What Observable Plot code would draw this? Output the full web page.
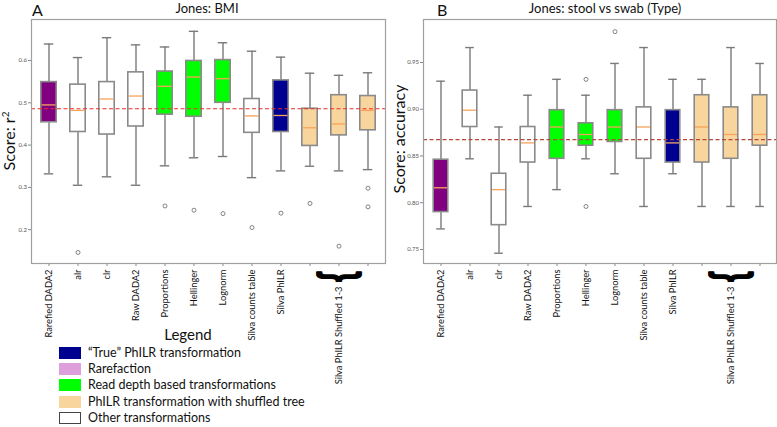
<!DOCTYPE html>
<html>
<head>
<meta charset="utf-8">
<script src="https://cdn.jsdelivr.net/npm/d3@7"></script>
<script src="https://cdn.jsdelivr.net/npm/@observablehq/plot@0.6"></script>
<style>
  html, body { margin: 0; padding: 0; background: #fff; }
  #wrap { position: relative; width: 777px; height: 427px; overflow: hidden; font-family: Lato, "Open Sans", sans-serif; color: #111; }
  .abs { position: absolute; white-space: nowrap; }
  .panel { position: absolute; top: 0; }
  .title { font-size: 13px; transform: translateX(-50%); line-height: 1.15; }
  .letter { font-size: 16px; line-height: 1.15; }
  .ylab { font-size: 16px; line-height: 1; transform: translate(-50%, -50%) rotate(-90deg); }
  .lg-row { position: absolute; left: 59px; height: 13px; font-size: 12.5px; line-height: 13px; }
  .sw { position: absolute; left: 0; top: 0; width: 22px; height: 12px; box-sizing: border-box; }
  .lg-row span.t { position: absolute; left: 29px; top: -1px; white-space: nowrap; }
</style>
</head>
<body>
<div id="wrap"></div>
<script>
// ---------- data ----------
const categories = ["Rarefied DADA2","alr","clr","Raw DADA2","Proportions","Hellinger","Lognorm","Silva counts table","Silva PhILR","Silva PhILR Shuffled 1","Silva PhILR Shuffled 2","Silva PhILR Shuffled 3"];
const tickLabels = ["Rarefied DADA2","alr","clr","Raw DADA2","Proportions","Hellinger","Lognorm","Silva counts table","Silva PhILR","","",""];
const groupLabel = "Silva PhILR Shuffled 1-3";
const groupCategory = "Silva PhILR Shuffled 2";
const boxFills = ["#800080","#ffffff","#ffffff","#ffffff","#00ff00","#00ff00","#00ff00","#ffffff","#000090","#f7d59c","#f7d59c","#f7d59c"];

// Panel A: Jones BMI (score r^2)
const bmiHigh = [0.639,0.607,0.654,0.637,0.632,0.669,0.642,0.622,0.608,0.570,0.565,0.571];
const bmiQ3   = [0.549,0.543,0.549,0.572,0.574,0.599,0.601,0.509,0.553,0.486,0.518,0.516];
const bmiMed  = [0.495,0.482,0.509,0.516,0.539,0.561,0.557,0.469,0.470,0.441,0.450,0.482];
const bmiQ1   = [0.454,0.431,0.425,0.444,0.472,0.467,0.500,0.429,0.431,0.398,0.423,0.435];
const bmiLow  = [0.332,0.305,0.325,0.305,0.351,0.370,0.373,0.323,0.339,0.350,0.339,0.342];
const bmiOutlierCat = ["alr","Proportions","Hellinger","Lognorm","Silva counts table","Silva PhILR","Silva PhILR Shuffled 1","Silva PhILR Shuffled 2","Silva PhILR Shuffled 3","Silva PhILR Shuffled 3"];
const bmiOutlierVal = [0.146,0.256,0.246,0.238,0.205,0.239,0.262,0.161,0.298,0.254];
const bmiBaseline = 0.486;
const bmiTicks = [0.2,0.3,0.4,0.5,0.6];

// Panel B: Jones stool vs swab (accuracy)
const typeHigh = [0.930,0.966,0.881,0.915,0.932,0.915,0.949,0.966,0.932,0.932,0.966,0.949];
const typeQ3   = [0.846,0.920,0.831,0.881,0.899,0.885,0.899,0.902,0.899,0.915,0.902,0.915];
const typeMed  = [0.816,0.899,0.814,0.864,0.881,0.873,0.881,0.881,0.864,0.881,0.873,0.873];
const typeQ1   = [0.790,0.881,0.776,0.843,0.847,0.861,0.865,0.847,0.843,0.843,0.847,0.861];
const typeLow  = [0.772,0.847,0.746,0.796,0.814,0.847,0.831,0.796,0.831,0.796,0.796,0.796];
const typeOutlierCat = ["Hellinger","Hellinger","Lognorm"];
const typeOutlierVal = [0.932,0.796,0.983];
const typeBaseline = 0.8675;
const typeTicks = [0.75,0.80,0.85,0.90,0.95];

const legendLabels = ["\u201cTrue\u201d PhILR transformation","Rarefaction","Read depth based transformations","PhILR transformation with shuffled tree","Other transformations"];
const legendColors = ["#000090","#dda0dd","#00ff00","#f7d59c","#ffffff"];

// ---------- drawing ----------
function panel({high, q3, med, q1, low, outCat, outVal, baseline, ticks, fmt, yDomain, width, marginLeft, marginRight, baseColor, boxInset}) {
  const rows = categories.map((c, i) => ({cat: c, high: high[i], q3: q3[i], med: med[i], q1: q1[i], low: low[i], fill: boxFills[i]}));
  const outs = outCat.map((c, i) => ({cat: c, v: outVal[i]}));
  const capInset = boxInset + 3;
  const grey = "#7a7a7a";
  const svg = Plot.plot({
    width, height: 427,
    marginLeft, marginRight, marginTop: 19, marginBottom: 164,
    style: {fontFamily: "Lato, sans-serif", background: "transparent", overflow: "visible", color: "#222"},
    x: {type: "band", domain: categories, padding: 0},
    y: {domain: yDomain},
    color: {type: "identity"},
    marks: [
      Plot.axisY({ticks, tickFormat: fmt, tickSize: 3, tickPadding: 1.5, fontSize: 6, label: null, stroke: "#888", fill: "#555"}),
      Plot.axisX({tickSize: 3, tickPadding: 3, tickRotate: -90, fontSize: 9.3, label: null, stroke: "#888", fill: "#111",
                  tickFormat: d => tickLabels[categories.indexOf(d)]}),
      Plot.ruleX(rows, {x: "cat", y1: "q3", y2: "high", stroke: grey, strokeWidth: 1.4}),
      Plot.ruleX(rows, {x: "cat", y1: "low", y2: "q1", stroke: grey, strokeWidth: 1.4}),
      Plot.tickY(rows, {x: "cat", y: "high", stroke: grey, strokeWidth: 1.4, insetLeft: capInset, insetRight: capInset}),
      Plot.tickY(rows, {x: "cat", y: "low", stroke: grey, strokeWidth: 1.4, insetLeft: capInset, insetRight: capInset}),
      Plot.barY(rows, {x: "cat", y1: "q1", y2: "q3", fill: "fill", stroke: "#8a8a8a", strokeWidth: 1.6, insetLeft: boxInset, insetRight: boxInset}),
      Plot.tickY(rows, {x: "cat", y: "med", stroke: "#f8a25a", strokeWidth: 1.3, insetLeft: boxInset + 0.8, insetRight: boxInset + 0.8}),
      Plot.dot(outs, {x: "cat", y: "v", r: 2, stroke: "#666", strokeWidth: 0.8, fill: "none"}),
      Plot.ruleY([baseline], {stroke: baseColor, strokeWidth: 1.1, strokeDasharray: "4,2.5"}),
      Plot.frame({stroke: "#a0a0a0", strokeWidth: 1.2}),
      Plot.text([groupLabel], {x: () => categories[10], text: d => d, frameAnchor: "bottom", rotate: -90, textAnchor: "end", lineAnchor: "middle", dy: 23, fontSize: 9.3, fill: "#111"}),
      Plot.text(["}"], {x: () => groupCategory, text: d => d, frameAnchor: "bottom", rotate: 90, textAnchor: "middle", lineAnchor: "middle", dx: 3, dy: 13, fontSize: 38, fontWeight: "bold", fontFamily: "Liberation Sans, sans-serif", fill: "#000", stroke: "#000", strokeWidth: 1.6})
    ]
  });
  // flatten the brace glyph so it spans the three shuffled boxes
  d3.select(svg).selectAll("text").filter(function() { return this.textContent === "}"; })
    .attr("transform", function() { return (this.getAttribute("transform") || "") + " scale(0.72,1.22)"; });
  return svg;
}

const wrap = document.getElementById("wrap");

const left = panel({high: bmiHigh, q3: bmiQ3, med: bmiMed, q1: bmiQ1, low: bmiLow, outCat: bmiOutlierCat, outVal: bmiOutlierVal,
  baseline: bmiBaseline, ticks: bmiTicks, fmt: d3.format(".1f"), yDomain: [0.12, 0.697], width: 390, marginLeft: 31, marginRight: 5, baseColor: "#e8312f", boxInset: 6.8});
left.classList.add("panel"); left.style.left = "0px";
wrap.appendChild(left);

const right = panel({high: typeHigh, q3: typeQ3, med: typeMed, q1: typeQ1, low: typeLow, outCat: typeOutlierCat, outVal: typeOutlierVal,
  baseline: typeBaseline, ticks: typeTicks, fmt: d3.format(".2f"), yDomain: [0.735, 0.996], width: 387, marginLeft: 33, marginRight: 1, baseColor: "#b5473a", boxInset: 7.2});
right.classList.add("panel"); right.style.left = "390px";
wrap.appendChild(right);

function addText(cls, txt, x, y) {
  const d = document.createElement("div");
  d.className = "abs " + cls;
  d.textContent = txt;
  d.style.left = x + "px"; d.style.top = y + "px";
  wrap.appendChild(d);
  return d;
}
addText("letter", "A", 32, 1);
addText("letter", "B", 437, 1);
addText("title", "Jones: BMI", 207, 1);
addText("title", "Jones: stool vs swab (Type)", 605, 1);
const yl1 = addText("ylab", "", 9, 141);
yl1.innerHTML = "Score: r<sup style='font-size:10px;vertical-align:6px;line-height:0'>2</sup>";
addText("ylab", "Score: accuracy", 399, 139);

const lt = addText("", "Legend", 188, 327);
lt.style.fontSize = "15px"; lt.style.transform = "translateX(-50%)"; lt.style.lineHeight = "1";

legendLabels.forEach((lab, i) => {
  const row = document.createElement("div");
  row.className = "lg-row";
  row.style.top = (347 + i * 16.2) + "px";
  const sw = document.createElement("div");
  sw.className = "sw";
  sw.style.background = legendColors[i];
  if (legendColors[i] === "#ffffff") sw.style.border = "1.3px solid #444";
  row.appendChild(sw);
  const t = document.createElement("span");
  t.className = "t";
  t.textContent = lab;
  row.appendChild(t);
  wrap.appendChild(row);
});
</script>
</body>
</html>
